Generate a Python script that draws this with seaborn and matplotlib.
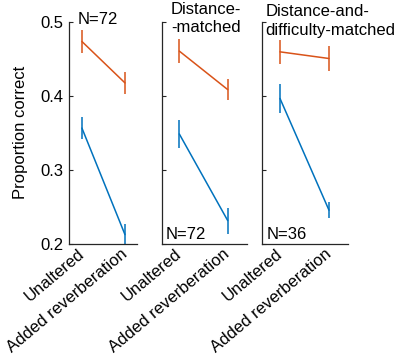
import numpy as np
import pandas as pd
import matplotlib
matplotlib.use("Agg")
import matplotlib.pyplot as plt
import matplotlib.transforms as mtransforms
import seaborn as sns

conditions = ["Unaltered", "Added reverberation"]
panel_titles = ["", "Distance-\n-matched", "Distance-and-\ndifficulty-matched"]
panel_n = ["N=72", "N=72", "N=36"]

# panel 1: all
orange_1 = [0.473, 0.417]
orange_1_err = [0.016, 0.015]
blue_1 = [0.356, 0.212]
blue_1_err = [0.015, 0.015]
# panel 2: distance-matched
orange_2 = [0.460, 0.408]
orange_2_err = [0.016, 0.0145]
blue_2 = [0.348, 0.231]
blue_2_err = [0.019, 0.0175]
# panel 3: distance-and-difficulty-matched
orange_3 = [0.459, 0.450]
orange_3_err = [0.016, 0.017]
blue_3 = [0.396, 0.245]
blue_3_err = [0.019, 0.011]

ylims = [(0.2, 0.5), (0.2, 0.493), (0.2, 0.5)]
yticks = [0.2, 0.3, 0.4, 0.5]

ORANGE = "#D95319"
BLUE = "#0072BD"

sns.set_style("ticks")
plt.rcParams["font.family"] = ["Liberation Sans", "DejaVu Sans"]
plt.rcParams["text.color"] = "black"
plt.rcParams["xtick.labelcolor"] = "black"
plt.rcParams["ytick.labelcolor"] = "black"
plt.rcParams["axes.labelcolor"] = "black"

fig = plt.figure(figsize=(3.96, 3.56), dpi=100)
W, H = 396.0, 356.0
bottom = 1 - 243.5 / H
height = 222.0 / H
axes_px = [(69, 137.3), (161.7, 247.3), (262.3, 348.3)]
xlims = [(-0.30, 1.286), (-0.364, 1.405), (-0.361, 1.394)]

data = [
    (orange_1, orange_1_err, blue_1, blue_1_err),
    (orange_2, orange_2_err, blue_2, blue_2_err),
    (orange_3, orange_3_err, blue_3, blue_3_err),
]

shift = mtransforms.ScaledTranslation(2.0 / 100, 0, fig.dpi_scale_trans)

for i, (o, oe, b, be) in enumerate(data):
    x0, x1 = axes_px[i]
    ax = fig.add_axes([x0 / W, bottom, (x1 - x0) / W, height])
    df = pd.DataFrame({
        "pos": [0, 1, 0, 1],
        "value": list(o) + list(b),
        "err": list(oe) + list(be),
        "group": ["orange", "orange", "blue", "blue"],
    })
    sns.lineplot(data=df, x="pos", y="value", hue="group",
                 palette={"orange": ORANGE, "blue": BLUE}, lw=1.1,
                 legend=False, ax=ax, errorbar=None)
    for g, c in [("orange", ORANGE), ("blue", BLUE)]:
        sub = df[df.group == g]
        ax.errorbar(sub["pos"], sub["value"], yerr=sub["err"], fmt="none",
                    ecolor=c, elinewidth=1.1, capsize=0)
    ax.set_xlim(*xlims[i])
    ax.set_ylim(*ylims[i])
    ax.set_yticks(yticks)
    ax.set_xticks([0, 1])
    ax.set_xticklabels(conditions, rotation=40, ha="right", va="center",
                       rotation_mode="anchor", fontsize=12)
    for lbl in ax.get_xticklabels():
        lbl.set_transform(lbl.get_transform() + shift)
    ax.set_xlabel("")
    ax.set_ylabel("")
    for s in ["top", "right"]:
        ax.spines[s].set_visible(False)
    for s in ["left", "bottom"]:
        ax.spines[s].set_color("#262626")
        ax.spines[s].set_linewidth(0.9)
    ax.tick_params(axis="y", direction="in", length=3, width=0.8,
                   color="#262626", labelsize=12, pad=4)
    ax.tick_params(axis="x", length=0, pad=6, labelsize=12)
    if i == 0:
        ax.set_yticklabels(["0.2", "0.3", "0.4", "0.5"])
        ax.set_ylabel("Proportion correct", fontsize=12, labelpad=9)
        ax.text(0.13, 1 - 2.5 / 222, panel_n[i], transform=ax.transAxes,
                fontsize=12, ha="left", va="baseline")
    else:
        ax.set_yticklabels([])
        ax.text(0.05, 0.0225, panel_n[i], transform=ax.transAxes,
                fontsize=12, ha="left", va="baseline")
    if i == 1:
        fig.text((x0 + 0.52 * (x1 - x0)) / W, 1 - 1.5 / H, panel_titles[i],
                 fontsize=12, ha="center", va="top", linespacing=1.25)
    if i == 2:
        fig.text((x0 + 0.04 * (x1 - x0)) / W, 1 - 4.5 / H, panel_titles[i],
                 fontsize=12, ha="left", va="top", linespacing=1.25)

fig.savefig("out.png", dpi=100)
